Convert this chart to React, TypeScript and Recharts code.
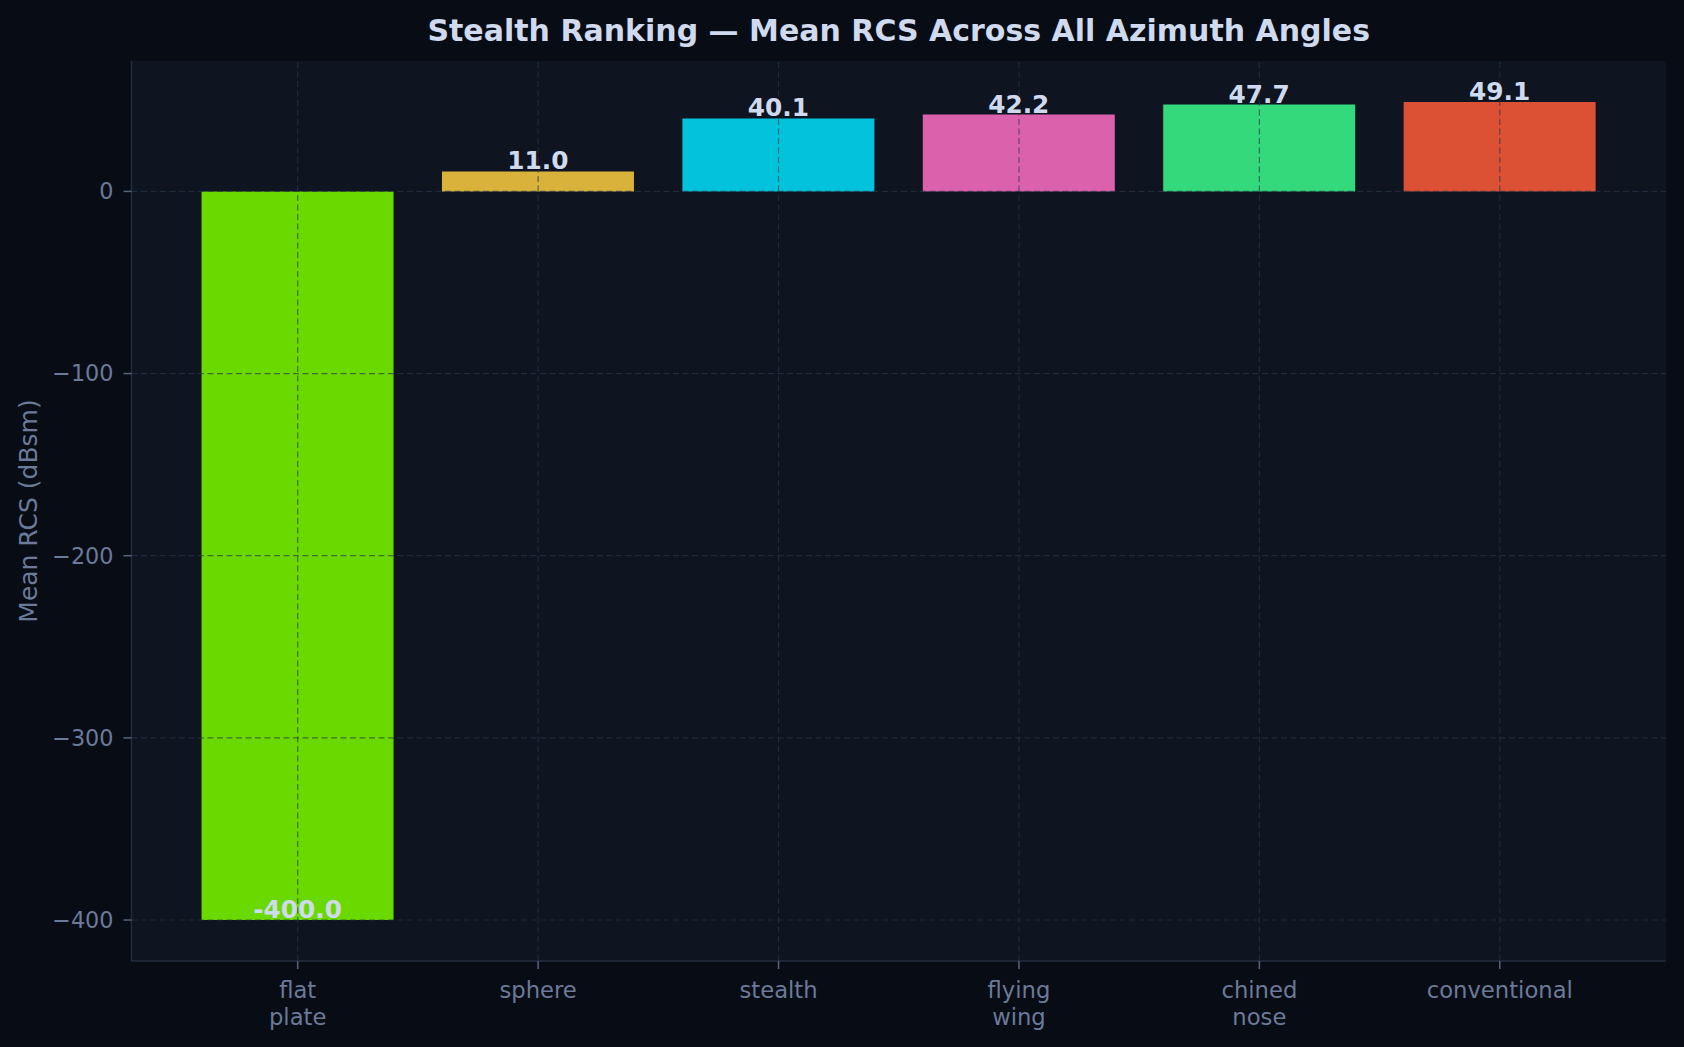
import React from 'react';
import { BarChart, Bar, XAxis, YAxis, CartesianGrid, ReferenceLine, LabelList, Cell } from 'recharts';

const categories = ['flat\nplate', 'sphere', 'stealth', 'flying\nwing', 'chined\nnose', 'conventional'];
const meanRcs = [-400.0, 11.0, 40.1, 42.2, 47.7, 49.1];
const barColors = ['#6ad900', '#d9b23c', '#03c3dc', '#dc61ad', '#33d97a', '#dc5033'];
const yTicks = [-400, -300, -200, -100, 0];

const W = 1684;
const H = 1047;
const FONT = '"DejaVu Sans", sans-serif';
const GRID = '#2a3648';
const SPINE = '#232d3f';
const MUTED = '#6b7a99';
const LIGHT = '#cfdaef';

const data = categories.map((name, i) => ({ name, value: meanRcs[i] }));

const XTick = (props: any) => {
  const { x, y, payload } = props;
  const lines = String(payload.value).split('\n');
  return (
    <text x={x} y={y} textAnchor="middle" fill={MUTED} fontSize={22.7} fontFamily={FONT}>
      {lines.map((l, i) => (
        <tspan key={i} x={x} dy={i === 0 ? 28.5 : 27}>{l}</tspan>
      ))}
    </text>
  );
};

const ValueLabel = (props: any) => {
  const { x, y, width, height, value } = props;
  const end = value >= 0 ? Math.min(y, y + height) : Math.max(y, y + height);
  return (
    <text x={x + width / 2} y={end - 2} textAnchor="middle" fill={LIGHT} fontSize={24.8}
      fontWeight="bold" fontFamily={FONT}>
      {Number(value).toFixed(1)}
    </text>
  );
};

const YLabel = (props: any) => {
  const { viewBox } = props;
  const cx = 37;
  const cy = viewBox.y + viewBox.height / 2;
  return (
    <text x={cx} y={cy} transform={`rotate(-90 ${cx} ${cy})`} textAnchor="middle" fill={MUTED}
      fontSize={25} fontFamily={FONT}>
      Mean RCS (dBsm)
    </text>
  );
};

const App: React.FC = () => {
  const margin = { top: 61, right: 18, bottom: 16, left: 31.5 };
  const yAxisW = 100;
  const plotCenter = (margin.left + yAxisW + (W - margin.right)) / 2;

  return (
    <div style={{ position: 'relative', width: W, height: H, background: '#080c14' }}>
      <style>{`body{margin:0;background:#080c14}`}</style>
      <BarChart width={W} height={H} data={data} margin={margin} barCategoryGap="10%">
        <CartesianGrid fill="#0e1420" horizontal={false} vertical={false} />
        <XAxis dataKey="name" interval={0} tick={<XTick />} height={70} tickSize={8} tickMargin={0}
          padding={{ left: 46, right: 46 }}
          axisLine={{ stroke: SPINE, strokeWidth: 1.5 }} tickLine={{ stroke: '#56647f', strokeWidth: 1.5 }} />
        <XAxis xAxisId="top" dataKey="name" orientation="top" height={0} tick={false} tickLine={false}
          padding={{ left: 46, right: 46 }} axisLine={{ stroke: SPINE, strokeWidth: 1.5 }} />
        <YAxis type="number" domain={[-422.5, 71.6]} allowDataOverflow ticks={yTicks} width={yAxisW}
          tickSize={8} tickMargin={10}
          tickFormatter={(v: number) => String(v).replace('-', '\u2212')}
          tick={{ fill: MUTED, fontSize: 22.3, fontFamily: FONT }}
          axisLine={{ stroke: SPINE, strokeWidth: 1.5 }} tickLine={{ stroke: '#56647f', strokeWidth: 1.5 }}
          label={<YLabel />} />
        <YAxis yAxisId="right" orientation="right" type="number" domain={[-422.5, 71.6]} width={0}
          tick={false} tickLine={false} axisLine={{ stroke: SPINE, strokeWidth: 1.5 }} />
        <Bar dataKey="value" isAnimationActive={false}>
          {data.map((d, i) => (
            <Cell key={d.name} fill={barColors[i]} />
          ))}
          <LabelList dataKey="value" content={<ValueLabel />} />
        </Bar>
        {yTicks.map(t => (
          <ReferenceLine key={`y${t}`} y={t} stroke={GRID} strokeOpacity={0.65} strokeWidth={1.2}
            strokeDasharray="6 3.5" />
        ))}
        {categories.map(c => (
          <ReferenceLine key={`x${c}`} x={c} stroke={GRID} strokeOpacity={0.65} strokeWidth={1.2}
            strokeDasharray="6 3.5" />
        ))}
      </BarChart>
      <svg width={W} height={H} style={{ position: 'absolute', left: 0, top: 0, pointerEvents: 'none' }}>
        <text x={plotCenter} y={40.7} textAnchor="middle" fill={LIGHT} fontSize={30} fontWeight="bold"
          fontFamily={FONT}>
          Stealth Ranking — Mean RCS Across All Azimuth Angles
        </text>
      </svg>
    </div>
  );
};

export default App;
